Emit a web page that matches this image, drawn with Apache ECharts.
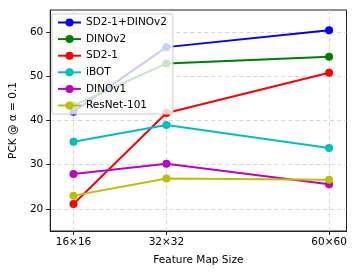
<!DOCTYPE html>
<html><head><meta charset="utf-8">
<script src="https://cdn.jsdelivr.net/npm/echarts@6/dist/echarts.min.js"></script>
<style>html,body{margin:0;padding:0;background:#fff}#c{width:357px;height:277px}</style>
</head><body><div id="c"></div>
<script>
const mapSizes = [16, 32, 60];
const xTickLabels = ['16×16', '32×32', '60×60'];
const yTicks = [20, 30, 40, 50, 60];
const seriesNames = ['SD2-1+DINOv2', 'DINOv2', 'SD2-1', 'iBOT', 'DINOv1', 'ResNet-101'];
const seriesColors = ['#0000ff', '#008000', '#ff0000', '#00bfbf', '#bf00bf', '#bfbf00'];
const sdDino = [42.0, 56.6, 60.4];
const dinov2 = [43.4, 52.9, 54.4];
const sd21 = [21.1, 41.7, 50.8];
const ibot = [35.2, 39.0, 33.8];
const dinov1 = [27.9, 30.2, 25.6];
const resnet = [23.0, 26.9, 26.6];
const allValues = [sdDino, dinov2, sd21, ibot, dinov1, resnet];

const font = 'DejaVu Sans';
const fs = 10.5;
const chart = echarts.init(document.getElementById('c'), null, {renderer: 'canvas'});
const gridLine = {show: true, lineStyle: {color: '#d6d6d6', type: [4, 3], width: 1}};
chart.setOption({
  animation: false,
  grid: {left: 48, top: 10, right: 10.5, bottom: 46, show: true, borderColor: '#222', borderWidth: 1, backgroundColor: 'transparent'},
  legend: {
    data: seriesNames,
    orient: 'vertical', left: 52, top: 14,
    padding: [3, 6, 3, 5],
    itemWidth: 23, itemHeight: 10, itemGap: 5.6, itemTextGap: 8,
    backgroundColor: 'rgba(255,255,255,0.8)', borderColor: '#cccccc', borderWidth: 1, borderRadius: 2,
    textStyle: {fontFamily: font, fontSize: fs, color: '#000'},
    z: 10
  },
  xAxis: {
    type: 'value', min: 12, max: 63,
    name: 'Feature Map Size', nameLocation: 'middle', nameGap: 24,
    nameTextStyle: {fontFamily: font, fontSize: fs, color: '#000'},
    axisLine: {show: true, lineStyle: {color: '#222', width: 1}},
    axisTick: {show: true, length: 4, customValues: mapSizes, lineStyle: {color: '#222'}},
    axisLabel: {customValues: mapSizes, margin: 6, fontFamily: font, fontSize: fs, color: '#000',
      formatter: v => xTickLabels[mapSizes.indexOf(v)] || ''},
    splitLine: gridLine
  },
  yAxis: {
    type: 'value', min: 15, max: 65,
    name: 'PCK @ α = 0.1', nameLocation: 'middle', nameGap: 28, nameRotate: 90,
    nameTextStyle: {fontFamily: font, fontSize: fs, color: '#000'},
    axisLine: {show: true, lineStyle: {color: '#222', width: 1}},
    axisTick: {show: true, length: 4, customValues: yTicks, lineStyle: {color: '#222'}},
    axisLabel: {customValues: yTicks, margin: 7, fontFamily: font, fontSize: fs, color: '#000'},
    splitLine: gridLine
  },
  series: seriesNames.map((n, i) => ({
    name: n, type: 'line',
    data: mapSizes.map((x, j) => [x, allValues[i][j]]),
    symbol: 'circle', symbolSize: 8,
    lineStyle: {width: 2, color: seriesColors[i]},
    itemStyle: {color: seriesColors[i]},
    z: 2 + i * 0.01
  }))
});
</script></body></html>
